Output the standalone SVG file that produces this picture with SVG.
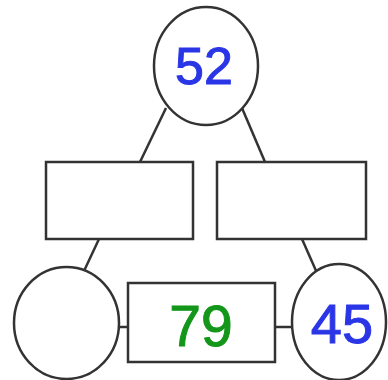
<svg xmlns="http://www.w3.org/2000/svg" width="388" height="380" viewBox="0 0 388 380">
<style>
.s{fill:#fff;stroke:#333;stroke-width:2.5}
.l{stroke:#333;stroke-width:2.5;fill:none}
.t{font-family:"Liberation Sans",Arial,sans-serif;text-anchor:middle;stroke-width:1}
.b{fill:#2a36e6;stroke:#2a36e6}
.g{fill:#13961a;stroke:#13961a}
</style>
<rect width="388" height="380" fill="#fff"/>
<g id="connectors">
<line class="l" x1="166" y1="108" x2="140" y2="162"/>
<line class="l" x1="242" y1="108" x2="265" y2="162"/>
<line class="l" x1="99" y1="239" x2="84" y2="271"/>
<line class="l" x1="302" y1="239" x2="317" y2="273"/>
<line class="l" x1="119" y1="327" x2="128" y2="327"/>
<line class="l" x1="275" y1="327" x2="292" y2="327"/>
</g>
<g id="top">
<ellipse class="s" cx="206" cy="66" rx="52" ry="59"/>
<text class="t b" x="204" y="84" font-size="52">52</text>
</g>
<g id="rectLeft"><rect class="s" x="46" y="162" width="147" height="77"/></g>
<g id="rectRight"><rect class="s" x="217" y="162" width="149" height="77"/></g>
<g id="circleLeft"><ellipse class="s" cx="66.5" cy="323" rx="52.5" ry="56"/></g>
<g id="rectMid">
<rect class="s" x="128" y="283" width="147" height="79"/>
<text class="t g" x="201" y="346" font-size="57">79</text>
</g>
<g id="circleRight">
<ellipse class="s" cx="339" cy="322" rx="47" ry="58"/>
<text class="t b" x="342" y="343" font-size="56">45</text>
</g>
</svg>
